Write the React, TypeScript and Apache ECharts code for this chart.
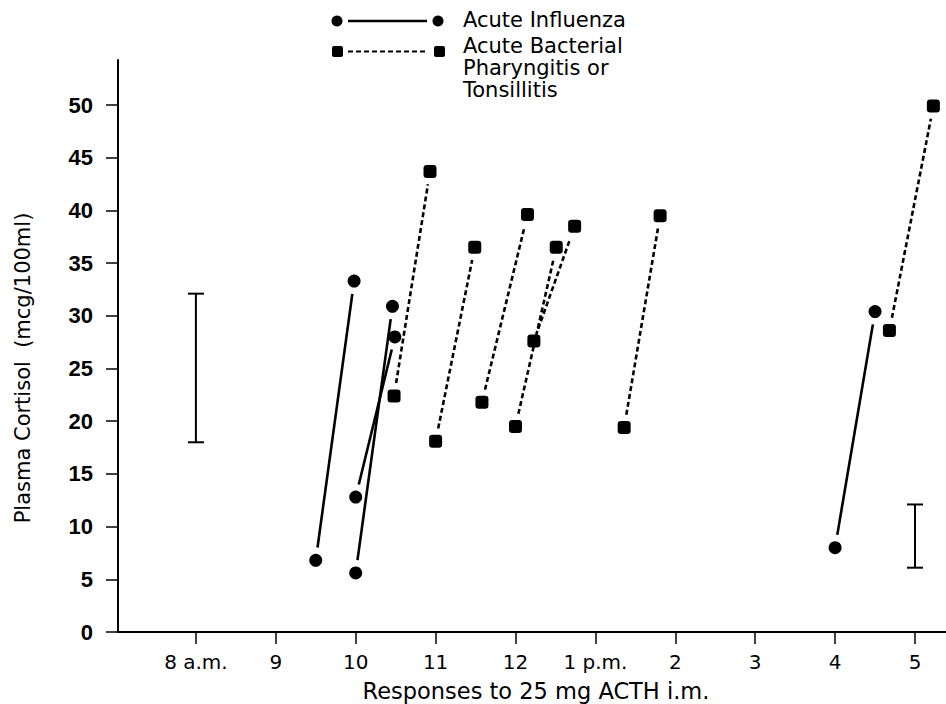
import React, { useEffect, useRef } from 'react';
import * as echarts from 'echarts';

// Axis ticks (hour of day) and labels
const xTickValues = [8, 9, 10, 11, 12, 13, 14, 15, 16, 17];
const xTickLabels = ['8 a.m.', '9', '10', '11', '12', '1 p.m.', '2', '3', '4', '5'];
const yTickValues = [0, 5, 10, 15, 20, 25, 30, 35, 40, 45, 50];

// Acute influenza: [time, cortisol] before and after ACTH
const influenzaBefore: number[][] = [[9.5, 6.8], [10.0, 5.6], [10.0, 12.8], [16.0, 8.0]];
const influenzaAfter: number[][] = [[9.98, 33.3], [10.46, 30.9], [10.49, 28.0], [16.5, 30.4]];

// Acute bacterial pharyngitis or tonsillitis
const bacterialBefore: number[][] = [[10.48, 22.4], [11.0, 18.1], [11.58, 21.8], [12.0, 19.5], [12.23, 27.6], [13.36, 19.4], [16.68, 28.6]];
const bacterialAfter: number[][] = [[10.93, 43.7], [11.49, 36.5], [12.15, 39.6], [12.51, 36.5], [12.74, 38.5], [13.81, 39.5], [17.23, 49.9]];

// Normal range bars
const rangeX = [8, 17];
const rangeLow = [18.0, 6.1];
const rangeHigh = [32.1, 12.1];

const legendInfluenza = 'Acute Influenza';
const legendBacterial = ['Acute Bacterial', 'Pharyngitis or', 'Tonsillitis'];
const xTitle = 'Responses to 25 mg ACTH i.m.';
const yTitle = 'Plasma Cortisol  (mcg/100ml)';

const FONT = 'DejaVu Sans';

function segmentRenderer(dash?: number[]) {
  return (_params: any, api: any) => {
    const p1 = api.coord([api.value(0), api.value(1)]);
    const p2 = api.coord([api.value(2), api.value(3)]);
    const dx = p2[0] - p1[0];
    const dy = p2[1] - p1[1];
    const len = Math.hypot(dx, dy) || 1;
    const ux = dx / len;
    const uy = dy / len;
    const g = 13;
    const style: any = { stroke: '#000', lineWidth: 2.6 };
    if (dash) style.lineDash = dash;
    return {
      type: 'line',
      shape: { x1: p1[0] + ux * g, y1: p1[1] + uy * g, x2: p2[0] - ux * g, y2: p2[1] - uy * g },
      style,
      silent: true,
    };
  };
}

function rangeRenderer(_params: any, api: any) {
  const lo = api.coord([api.value(0), api.value(1)]);
  const hi = api.coord([api.value(0), api.value(2)]);
  const w = 8;
  const st = { stroke: '#000', lineWidth: 2 };
  return {
    type: 'group',
    children: [
      { type: 'line', shape: { x1: lo[0], y1: lo[1], x2: hi[0], y2: hi[1] }, style: st },
      { type: 'line', shape: { x1: lo[0] - w, y1: lo[1], x2: lo[0] + w, y2: lo[1] }, style: st },
      { type: 'line', shape: { x1: hi[0] - w, y1: hi[1], x2: hi[0] + w, y2: hi[1] }, style: st },
    ],
  };
}

export default function App() {
  const ref = useRef<HTMLDivElement>(null);
  useEffect(() => {
    if (!ref.current) return;
    const chart = echarts.init(ref.current, undefined, { renderer: 'svg' });
    const influenzaSegs = influenzaBefore.map((p, i) => [p[0], p[1], influenzaAfter[i][0], influenzaAfter[i][1]]);
    const bacterialSegs = bacterialBefore.map((p, i) => [p[0], p[1], bacterialAfter[i][0], bacterialAfter[i][1]]);
    const rangeData = rangeX.map((x, i) => [x, rangeLow[i], rangeHigh[i]]);

    const legendTextStyle = { fill: '#000', fontSize: 21, fontFamily: FONT };
    chart.setOption({
      animation: false,
      backgroundColor: '#fff',
      grid: { left: 118, right: 0, top: 60, bottom: 72, containLabel: false },
      xAxis: {
        type: 'value',
        min: 7.025,
        max: 17.388,
        axisLine: { show: true, onZero: false, lineStyle: { color: '#000', width: 2 } },
        axisTick: { show: true, length: 12, customValues: xTickValues, lineStyle: { color: '#000', width: 1.5 } },
        axisLabel: {
          customValues: xTickValues,
          formatter: (v: number) => {
            const idx = xTickValues.indexOf(Math.round(v));
            return idx >= 0 ? xTickLabels[idx] : '';
          },
          color: '#000',
          fontSize: 20,
          fontFamily: FONT,
          margin: 20,
        },
        splitLine: { show: false },
      },
      yAxis: {
        type: 'value',
        min: 0,
        max: 54.27,
        axisLine: { show: true, onZero: false, lineStyle: { color: '#000', width: 2 } },
        axisTick: { show: true, length: 12, customValues: yTickValues, lineStyle: { color: '#000', width: 1.5 } },
        axisLabel: {
          customValues: yTickValues,
          color: '#000',
          fontSize: 22,
          fontWeight: 'bold',
          fontFamily: 'Liberation Sans',
          margin: 25,
        },
        splitLine: { show: false },
      },
      series: [
        {
          type: 'custom',
          name: 'Normal range',
          renderItem: rangeRenderer,
          data: rangeData,
          encode: { x: 0, y: [1, 2] },
          silent: true,
        },
        {
          type: 'custom',
          name: legendInfluenza,
          renderItem: segmentRenderer(),
          data: influenzaSegs,
          encode: { x: [0, 2], y: [1, 3] },
          silent: true,
        },
        {
          type: 'custom',
          name: legendBacterial.join(' '),
          renderItem: segmentRenderer([5, 3]),
          data: bacterialSegs,
          encode: { x: [0, 2], y: [1, 3] },
          silent: true,
        },
        {
          type: 'scatter',
          name: legendInfluenza + ' points',
          symbol: 'circle',
          symbolSize: 13,
          itemStyle: { color: '#000', opacity: 1 },
          data: [...influenzaBefore, ...influenzaAfter],
          z: 5,
        },
        {
          type: 'scatter',
          name: 'Bacterial points',
          symbol: 'roundRect',
          symbolSize: 13,
          itemStyle: { color: '#000', opacity: 1 },
          data: [...bacterialBefore, ...bacterialAfter],
          z: 5,
        },
      ],
      graphic: [
        // legend row 1
        { type: 'circle', shape: { cx: 337, cy: 21, r: 5.5 }, style: { fill: '#000' } },
        { type: 'line', shape: { x1: 348, y1: 21, x2: 427, y2: 21 }, style: { stroke: '#000', lineWidth: 2.4 } },
        { type: 'circle', shape: { cx: 438, cy: 21, r: 5.5 }, style: { fill: '#000' } },
        { type: 'text', x: 463, y: 20, style: { ...legendTextStyle, text: legendInfluenza, textVerticalAlign: 'middle' } },
        // legend row 2
        { type: 'rect', shape: { x: 332, y: 46, width: 11, height: 11, r: 2 }, style: { fill: '#000' } },
        { type: 'line', shape: { x1: 348, y1: 51.5, x2: 428, y2: 51.5 }, style: { stroke: '#000', lineWidth: 2.2, lineDash: [5, 3] } },
        { type: 'rect', shape: { x: 434, y: 46, width: 11, height: 11, r: 2 }, style: { fill: '#000' } },
        { type: 'text', x: 463, y: 46, style: { ...legendTextStyle, text: legendBacterial[0], textVerticalAlign: 'middle' } },
        { type: 'text', x: 463, y: 68, style: { ...legendTextStyle, text: legendBacterial[1], textVerticalAlign: 'middle' } },
        { type: 'text', x: 463, y: 90, style: { ...legendTextStyle, text: legendBacterial[2], textVerticalAlign: 'middle' } },
        // axis titles
        {
          type: 'text',
          x: 536,
          y: 691,
          style: { text: xTitle, fill: '#000', fontSize: 22.5, fontFamily: FONT, textAlign: 'center', textVerticalAlign: 'middle' },
        },
        {
          type: 'text',
          x: 23,
          y: 368,
          rotation: Math.PI / 2,
          style: { text: yTitle, fill: '#000', fontSize: 21, fontFamily: FONT, textAlign: 'center', textVerticalAlign: 'middle' },
        },
      ],
    });
    return () => chart.dispose();
  }, []);
  return <div ref={ref} style={{ position: 'fixed', left: 0, top: 0, width: 946, height: 704, background: '#fff' }} />;
}
